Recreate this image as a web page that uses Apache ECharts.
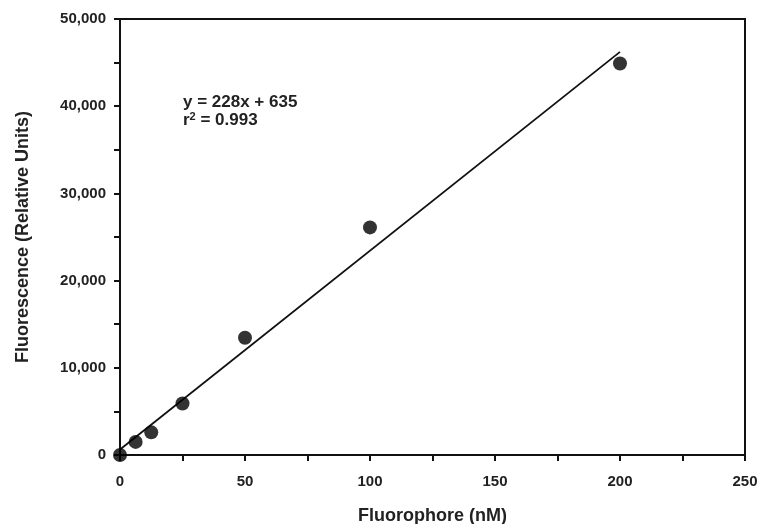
<!DOCTYPE html>
<html>
<head>
<meta charset="utf-8">
<script src="https://cdn.jsdelivr.net/npm/echarts@6/dist/echarts.min.js"></script>
<style>
  html, body { margin: 0; padding: 0; background: #fff; }
  #main { width: 762px; height: 524px; }
</style>
</head>
<body>
<div id="main"></div>
<script>
// measured points
var concentration = [0, 6.25, 12.5, 25, 50, 100, 200];
var fluorescence = [0, 1500, 2600, 5900, 13450, 26100, 44900];
// linear fit y = 228x + 635
var fitX = [0, 200];
var fitY = [635, 46235];
var fitLabel = 'y = 228x + 635';
var r2Label = '0.993';

var font = '"Liberation Sans", Arial, sans-serif';

function pairs(xs, ys) {
    var ret = [];
    for (var i = 0; i < xs.length; i++) {
        ret.push([xs[i], ys[i]]);
    }
    return ret;
}

var myChart = echarts.init(document.getElementById('main'));

var option = {
    animation: false,
    grid: {
        left: 120, right: 17, top: 19, bottom: 69,
        outerBoundsMode: 'none',
        containLabel: false,
        show: true,
        borderColor: '#111',
        borderWidth: 2
    },
    xAxis: {
        type: 'value',
        min: 0, max: 250, interval: 50,
        name: 'Fluorophore (nM)',
        nameLocation: 'middle',
        nameGap: 52,
        nameTextStyle: { fontFamily: font, fontWeight: 'bold', fontSize: 18, color: '#222' },
        axisLine: { lineStyle: { color: '#111', width: 2 } },
        axisTick: { length: 6, lineStyle: { color: '#111', width: 2 } },
        minorTick: { show: true, splitNumber: 2, length: 6, lineStyle: { color: '#111', width: 2 } },
        axisLabel: { fontFamily: font, fontWeight: 'bold', fontSize: 15, color: '#222', margin: 19 },
        splitLine: { show: false }
    },
    yAxis: {
        type: 'value',
        min: 0, max: 50000, interval: 10000,
        name: 'Fluorescence (Relative Units)',
        nameLocation: 'middle',
        nameGap: 88,
        nameTextStyle: { fontFamily: font, fontWeight: 'bold', fontSize: 18, color: '#222' },
        axisLine: { lineStyle: { color: '#111', width: 2 } },
        axisTick: { length: 6, lineStyle: { color: '#111', width: 2 } },
        minorTick: { show: true, splitNumber: 2, length: 6, lineStyle: { color: '#111', width: 2 } },
        axisLabel: {
            fontFamily: font, fontWeight: 'bold', fontSize: 15, color: '#222', margin: 14,
            formatter: function (v) { return echarts.format.addCommas(v); }
        },
        splitLine: { show: false }
    },
    graphic: [{
        type: 'text',
        left: 183,
        top: 94,
        style: {
            text: '{b|' + fitLabel + '}\n{b|r}{sup|2}{b| = ' + r2Label + '}',
            rich: {
                b: { fontFamily: font, fontWeight: 'bold', fontSize: 17, fill: '#222', lineHeight: 18 },
                sup: { fontFamily: font, fontWeight: 'bold', fontSize: 11, fill: '#222', verticalAlign: 'top', lineHeight: 18, padding: [0, 0, 7, 0] }
            }
        }
    }],
    series: [{
        type: 'line',
        data: pairs(fitX, fitY),
        symbol: 'none',
        lineStyle: { color: '#111', width: 1.8 },
        z: 2
    }, {
        type: 'scatter',
        data: pairs(concentration, fluorescence),
        symbolSize: 14,
        itemStyle: { color: '#000' },
        z: 3
    }]
};

myChart.setOption(option);
</script>
</body>
</html>
